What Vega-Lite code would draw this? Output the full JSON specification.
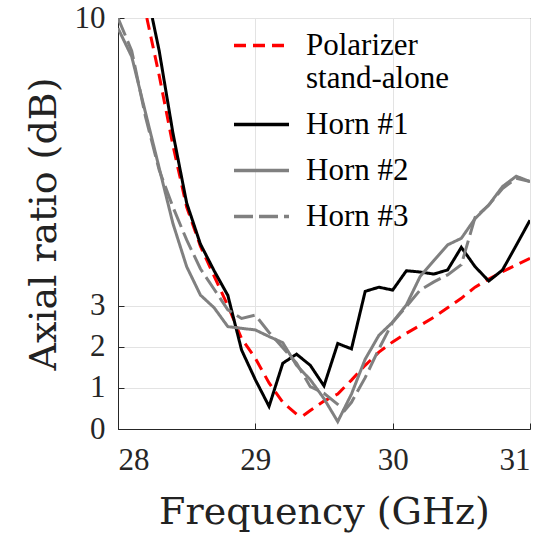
{
  "$schema": "https://vega.github.io/schema/vega-lite/v6.json",
  "width": 412,
  "height": 411,
  "autosize": {"type": "none"},
  "padding": {"left": 118, "top": 18, "right": 14, "bottom": 106},
  "config": {
    "view": {"stroke": "#262626", "strokeWidth": 1}
  },
  "data": {
    "values": [
      {"s": "Polarizer stand-alone", "f": 28.21, "ar": 10},
      {"s": "Polarizer stand-alone", "f": 28.3, "ar": 8.6},
      {"s": "Polarizer stand-alone", "f": 28.4, "ar": 6.9},
      {"s": "Polarizer stand-alone", "f": 28.5, "ar": 5.4},
      {"s": "Polarizer stand-alone", "f": 28.6, "ar": 4.45},
      {"s": "Polarizer stand-alone", "f": 28.7, "ar": 3.72},
      {"s": "Polarizer stand-alone", "f": 28.8, "ar": 3.0},
      {"s": "Polarizer stand-alone", "f": 28.9, "ar": 2.2},
      {"s": "Polarizer stand-alone", "f": 29.0, "ar": 1.72},
      {"s": "Polarizer stand-alone", "f": 29.1, "ar": 1.12},
      {"s": "Polarizer stand-alone", "f": 29.2, "ar": 0.65},
      {"s": "Polarizer stand-alone", "f": 29.3, "ar": 0.36},
      {"s": "Polarizer stand-alone", "f": 29.35, "ar": 0.33},
      {"s": "Polarizer stand-alone", "f": 29.4, "ar": 0.45},
      {"s": "Polarizer stand-alone", "f": 29.5, "ar": 0.68},
      {"s": "Polarizer stand-alone", "f": 29.6, "ar": 0.85},
      {"s": "Polarizer stand-alone", "f": 29.7, "ar": 1.19},
      {"s": "Polarizer stand-alone", "f": 29.8, "ar": 1.55},
      {"s": "Polarizer stand-alone", "f": 29.9, "ar": 1.87},
      {"s": "Polarizer stand-alone", "f": 30.0, "ar": 2.12},
      {"s": "Polarizer stand-alone", "f": 30.1, "ar": 2.33},
      {"s": "Polarizer stand-alone", "f": 30.2, "ar": 2.52},
      {"s": "Polarizer stand-alone", "f": 30.3, "ar": 2.72},
      {"s": "Polarizer stand-alone", "f": 30.4, "ar": 2.95},
      {"s": "Polarizer stand-alone", "f": 30.5, "ar": 3.18},
      {"s": "Polarizer stand-alone", "f": 30.6, "ar": 3.45},
      {"s": "Polarizer stand-alone", "f": 30.7, "ar": 3.65},
      {"s": "Polarizer stand-alone", "f": 30.8, "ar": 3.83},
      {"s": "Polarizer stand-alone", "f": 30.9, "ar": 3.99},
      {"s": "Polarizer stand-alone", "f": 31.0, "ar": 4.15},

      {"s": "Horn #1", "f": 28.25, "ar": 10},
      {"s": "Horn #1", "f": 28.3, "ar": 9.2},
      {"s": "Horn #1", "f": 28.4, "ar": 7.2},
      {"s": "Horn #1", "f": 28.5, "ar": 5.5},
      {"s": "Horn #1", "f": 28.6, "ar": 4.5},
      {"s": "Horn #1", "f": 28.7, "ar": 3.85},
      {"s": "Horn #1", "f": 28.8, "ar": 3.25},
      {"s": "Horn #1", "f": 28.9, "ar": 1.92},
      {"s": "Horn #1", "f": 29.0, "ar": 1.2},
      {"s": "Horn #1", "f": 29.1, "ar": 0.55},
      {"s": "Horn #1", "f": 29.2, "ar": 1.6},
      {"s": "Horn #1", "f": 29.3, "ar": 1.82},
      {"s": "Horn #1", "f": 29.4, "ar": 1.55},
      {"s": "Horn #1", "f": 29.5, "ar": 1.05},
      {"s": "Horn #1", "f": 29.6, "ar": 2.08},
      {"s": "Horn #1", "f": 29.7, "ar": 1.95},
      {"s": "Horn #1", "f": 29.8, "ar": 3.35},
      {"s": "Horn #1", "f": 29.9, "ar": 3.45},
      {"s": "Horn #1", "f": 30.0, "ar": 3.38},
      {"s": "Horn #1", "f": 30.1, "ar": 3.85},
      {"s": "Horn #1", "f": 30.2, "ar": 3.82},
      {"s": "Horn #1", "f": 30.3, "ar": 3.77},
      {"s": "Horn #1", "f": 30.4, "ar": 3.87},
      {"s": "Horn #1", "f": 30.5, "ar": 4.42},
      {"s": "Horn #1", "f": 30.6, "ar": 3.95},
      {"s": "Horn #1", "f": 30.7, "ar": 3.6},
      {"s": "Horn #1", "f": 30.8, "ar": 3.87},
      {"s": "Horn #1", "f": 30.9, "ar": 4.47},
      {"s": "Horn #1", "f": 31.0, "ar": 5.08},

      {"s": "Horn #2", "f": 28.0, "ar": 9.75},
      {"s": "Horn #2", "f": 28.1, "ar": 9.06},
      {"s": "Horn #2", "f": 28.2, "ar": 7.7},
      {"s": "Horn #2", "f": 28.3, "ar": 6.35},
      {"s": "Horn #2", "f": 28.4, "ar": 5.0},
      {"s": "Horn #2", "f": 28.5, "ar": 3.95},
      {"s": "Horn #2", "f": 28.6, "ar": 3.26},
      {"s": "Horn #2", "f": 28.7, "ar": 2.95},
      {"s": "Horn #2", "f": 28.8, "ar": 2.49},
      {"s": "Horn #2", "f": 28.9, "ar": 2.45},
      {"s": "Horn #2", "f": 29.0, "ar": 2.41},
      {"s": "Horn #2", "f": 29.1, "ar": 2.25},
      {"s": "Horn #2", "f": 29.2, "ar": 2.1},
      {"s": "Horn #2", "f": 29.3, "ar": 1.55},
      {"s": "Horn #2", "f": 29.4, "ar": 1.2},
      {"s": "Horn #2", "f": 29.5, "ar": 0.74},
      {"s": "Horn #2", "f": 29.6, "ar": 0.18},
      {"s": "Horn #2", "f": 29.7, "ar": 0.85},
      {"s": "Horn #2", "f": 29.8, "ar": 1.7},
      {"s": "Horn #2", "f": 29.9, "ar": 2.28},
      {"s": "Horn #2", "f": 30.0, "ar": 2.6},
      {"s": "Horn #2", "f": 30.1, "ar": 3.02},
      {"s": "Horn #2", "f": 30.2, "ar": 3.71},
      {"s": "Horn #2", "f": 30.3, "ar": 4.1},
      {"s": "Horn #2", "f": 30.4, "ar": 4.48},
      {"s": "Horn #2", "f": 30.5, "ar": 4.64},
      {"s": "Horn #2", "f": 30.6, "ar": 5.12},
      {"s": "Horn #2", "f": 30.7, "ar": 5.45},
      {"s": "Horn #2", "f": 30.8, "ar": 5.9},
      {"s": "Horn #2", "f": 30.9, "ar": 6.15},
      {"s": "Horn #2", "f": 31.0, "ar": 6.02},

      {"s": "Horn #3", "f": 28.0, "ar": 10},
      {"s": "Horn #3", "f": 28.1, "ar": 9.2},
      {"s": "Horn #3", "f": 28.2, "ar": 7.6},
      {"s": "Horn #3", "f": 28.3, "ar": 6.3},
      {"s": "Horn #3", "f": 28.4, "ar": 5.4},
      {"s": "Horn #3", "f": 28.5, "ar": 4.6},
      {"s": "Horn #3", "f": 28.6, "ar": 3.9},
      {"s": "Horn #3", "f": 28.7, "ar": 3.4},
      {"s": "Horn #3", "f": 28.8, "ar": 2.9},
      {"s": "Horn #3", "f": 28.9, "ar": 2.69},
      {"s": "Horn #3", "f": 29.0, "ar": 2.77},
      {"s": "Horn #3", "f": 29.1, "ar": 2.35},
      {"s": "Horn #3", "f": 29.2, "ar": 1.98},
      {"s": "Horn #3", "f": 29.3, "ar": 1.6},
      {"s": "Horn #3", "f": 29.4, "ar": 1.03},
      {"s": "Horn #3", "f": 29.5, "ar": 0.87},
      {"s": "Horn #3", "f": 29.6, "ar": 0.6},
      {"s": "Horn #3", "f": 29.65, "ar": 0.45},
      {"s": "Horn #3", "f": 29.7, "ar": 0.65},
      {"s": "Horn #3", "f": 29.8, "ar": 1.25},
      {"s": "Horn #3", "f": 29.9, "ar": 1.95},
      {"s": "Horn #3", "f": 30.0, "ar": 2.6},
      {"s": "Horn #3", "f": 30.1, "ar": 2.98},
      {"s": "Horn #3", "f": 30.2, "ar": 3.38},
      {"s": "Horn #3", "f": 30.3, "ar": 3.58},
      {"s": "Horn #3", "f": 30.4, "ar": 3.75},
      {"s": "Horn #3", "f": 30.5, "ar": 4.0},
      {"s": "Horn #3", "f": 30.6, "ar": 5.15},
      {"s": "Horn #3", "f": 30.7, "ar": 5.45},
      {"s": "Horn #3", "f": 30.8, "ar": 5.85},
      {"s": "Horn #3", "f": 30.9, "ar": 6.1},
      {"s": "Horn #3", "f": 31.0, "ar": 6.02}
    ]
  },
  "mark": {"type": "line", "clip": true, "strokeWidth": 3},
  "encoding": {
    "x": {
      "field": "f",
      "type": "quantitative",
      "scale": {"domain": [28, 31], "nice": false, "zero": false},
      "axis": {
        "values": [28, 29, 30, 31],
        "title": "Frequency (GHz)",
        "domainColor": "#262626",
        "gridColor": "#e3e3e3",
        "tickColor": "#262626",
        "tickSize": -6,
        "labelColor": "#262626",
        "labelFont": "Liberation Serif",
        "labelFontSize": 31,
        "labelPadding": 22,
        "titleFont": "DejaVu Serif",
        "titleFontSize": 38,
        "titleFontWeight": "normal",
        "titleColor": "#222222",
        "titleBaseline": "alphabetic",
        "titleY": 94
      }
    },
    "y": {
      "field": "ar",
      "type": "quantitative",
      "scale": {"domain": [0, 10], "nice": false},
      "axis": {
        "values": [0, 1, 2, 3, 10],
        "title": "Axial ratio (dB)",
        "domainColor": "#262626",
        "gridColor": "#e3e3e3",
        "tickColor": "#262626",
        "tickSize": -6,
        "labelColor": "#262626",
        "labelFont": "Liberation Serif",
        "labelFontSize": 31,
        "labelPadding": 19,
        "titleFont": "DejaVu Serif",
        "titleFontSize": 38,
        "titleFontWeight": "normal",
        "titleColor": "#222222",
        "titleBaseline": "alphabetic",
        "titleX": -63
      }
    },
    "color": {
      "field": "s",
      "type": "nominal",
      "title": null,
      "scale": {
        "domain": ["Polarizer stand-alone", "Horn #1", "Horn #2", "Horn #3"],
        "range": ["#ff0000", "#000000", "#808080", "#808080"]
      },
      "legend": {
        "title": null,
        "orient": "none",
        "legendX": 114,
        "legendY": -2,
        "padding": 0,
        "symbolType": "stroke",
        "symbolSize": 3025,
        "symbolStrokeWidth": 3.5,
        "labelFont": "Liberation Serif",
        "labelFontSize": 31,
        "labelColor": "#000000",
        "labelOffset": 15,
        "labelLimit": 300,
        "rowPadding": 1,
        "labelExpr": "datum.label == 'Polarizer stand-alone' ? ['\u00a0\u00a0Polarizer', 'stand-alone'] : datum.label",
        "encoding": {
          "labels": {
            "update": {
              "dy": {"signal": "datum.value === 'Polarizer stand-alone' ? -16 : 0"}
            }
          }
        }
      }
    },
    "strokeDash": {
      "field": "s",
      "type": "nominal",
      "title": null,
      "scale": {
        "domain": ["Polarizer stand-alone", "Horn #1", "Horn #2", "Horn #3"],
        "range": [[12, 7], [1, 0], [1, 0], [19, 6]]
      },
      "legend": {
        "title": null,
        "orient": "none",
        "legendX": 114,
        "legendY": -2,
        "padding": 0,
        "symbolType": "stroke",
        "symbolSize": 3025,
        "symbolStrokeWidth": 3.5,
        "labelFont": "Liberation Serif",
        "labelFontSize": 31,
        "labelColor": "#000000",
        "labelOffset": 15,
        "labelLimit": 300,
        "rowPadding": 1,
        "labelExpr": "datum.label == 'Polarizer stand-alone' ? ['\u00a0\u00a0Polarizer', 'stand-alone'] : datum.label",
        "encoding": {
          "labels": {
            "update": {
              "dy": {"signal": "datum.value === 'Polarizer stand-alone' ? -16 : 0"}
            }
          }
        }
      }
    }
  }
}
